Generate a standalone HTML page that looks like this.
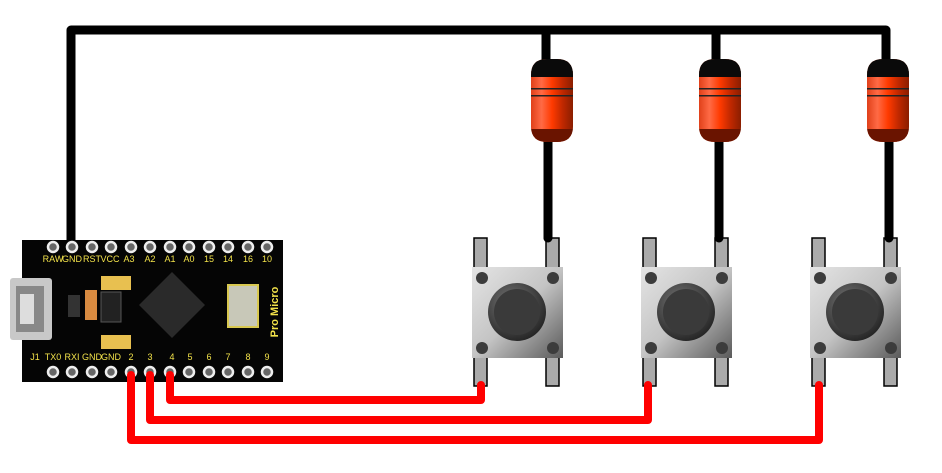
<!DOCTYPE html>
<html><head><meta charset="utf-8"><style>
html,body{margin:0;padding:0;background:#fff;width:942px;height:473px;overflow:hidden}
</style></head><body>
<svg width="942" height="473" viewBox="0 0 942 473" xmlns="http://www.w3.org/2000/svg" font-family="Liberation Sans, sans-serif">
<defs>
<linearGradient id="res" x1="0" x2="1">
<stop offset="0" stop-color="#e0401a"/><stop offset="0.25" stop-color="#ff6a45"/><stop offset="0.5" stop-color="#ff3a00"/><stop offset="0.75" stop-color="#c02800"/><stop offset="1" stop-color="#8a1e00"/></linearGradient>
<linearGradient id="btn" x1="0" y1="0" x2="1" y2="1">
<stop offset="0" stop-color="#e4e4e4"/><stop offset="0.5" stop-color="#c4c4c4"/><stop offset="1" stop-color="#5a5a5a"/></linearGradient>
<radialGradient id="cap" cx="0.4" cy="0.35" r="0.7"><stop offset="0" stop-color="#777"/><stop offset="1" stop-color="#222"/></radialGradient>
<g id="resistor">
<path d="M0 16 Q0 0 16 0 L26 0 Q42 0 42 16 L42 67 Q42 83 26 83 L16 83 Q0 83 0 67 Z" fill="url(#res)"/>
<path d="M0 16 Q0 0 16 0 L26 0 Q42 0 42 16 L42 18 L0 18 Z" fill="#0a0a0a"/>
<path d="M0 70 L42 70 L42 67 Q42 83 26 83 L16 83 Q0 83 0 67 Z" fill="#6a1400"/>
<rect x="0" y="29" width="42" height="1.5" fill="#222"/>
<rect x="0" y="36" width="42" height="1.5" fill="#222"/>
</g>
<g id="button">
<rect x="2" y="0" width="13" height="148" fill="#aaa" stroke="#000" stroke-width="1.5"/>
<rect x="74" y="0" width="13" height="148" fill="#aaa" stroke="#000" stroke-width="1.5"/>
<rect x="0" y="29" width="91" height="91" fill="url(#btn)"/>
<circle cx="10" cy="40" r="6" fill="#3c3c3c"/><circle cx="81" cy="40" r="6" fill="#3c3c3c"/>
<circle cx="10" cy="110" r="6" fill="#3c3c3c"/><circle cx="81" cy="110" r="6" fill="#3c3c3c"/>
<circle cx="45" cy="74" r="29" fill="url(#cap)"/>
<circle cx="45" cy="74" r="23" fill="#3a3a3a"/>
</g>
</defs>

<g stroke="#000" stroke-width="9" fill="none" stroke-linecap="round" stroke-linejoin="round">
<path d="M71 245 L71 30 L886 30 L886 60"/>
<path d="M546 30 L546 60"/><path d="M716 30 L716 60"/>
<path d="M548 140 L548 238"/><path d="M719 140 L719 238"/><path d="M889 140 L889 238"/>
</g>

<use href="#resistor" x="531" y="59"/>
<use href="#resistor" x="699" y="59"/>
<use href="#resistor" x="867" y="59"/>

<use href="#button" x="472" y="238"/>
<use href="#button" x="641" y="238"/>
<use href="#button" x="810" y="238"/>
<g stroke="#000" stroke-width="9" stroke-linecap="round">
<path d="M548 232 L548 238"/><path d="M719 232 L719 238"/><path d="M889 232 L889 238"/>
</g>

<rect x="22" y="240" width="261" height="142" fill="#050505"/>
<rect x="10" y="278" width="42" height="62" rx="3" fill="#c8c8c8"/>
<rect x="16" y="286" width="28" height="46" fill="#888"/>
<rect x="20" y="294" width="14" height="30" fill="#ddd"/>
<g fill="#666" stroke="#eee" stroke-width="2.5">
<circle cx="53" cy="247" r="5"/><circle cx="72" cy="247" r="5"/><circle cx="92" cy="247" r="5"/><circle cx="111" cy="247" r="5"/><circle cx="131" cy="247" r="5"/><circle cx="150" cy="247" r="5"/><circle cx="170" cy="247" r="5"/><circle cx="189" cy="247" r="5"/><circle cx="209" cy="247" r="5"/><circle cx="228" cy="247" r="5"/><circle cx="248" cy="247" r="5"/><circle cx="267" cy="247" r="5"/>
<circle cx="53" cy="372" r="5"/><circle cx="72" cy="372" r="5"/><circle cx="92" cy="372" r="5"/><circle cx="111" cy="372" r="5"/><circle cx="131" cy="372" r="5"/><circle cx="150" cy="372" r="5"/><circle cx="170" cy="372" r="5"/><circle cx="189" cy="372" r="5"/><circle cx="209" cy="372" r="5"/><circle cx="228" cy="372" r="5"/><circle cx="248" cy="372" r="5"/><circle cx="267" cy="372" r="5"/>
</g>
<g fill="#f2e24a" font-size="9" text-anchor="middle">
<text x="53" y="262">RAW</text><text x="72" y="262">GND</text><text x="92" y="262">RST</text><text x="110" y="262">VCC</text><text x="129" y="262">A3</text><text x="150" y="262">A2</text><text x="170" y="262">A1</text><text x="189" y="262">A0</text><text x="209" y="262">15</text><text x="228" y="262">14</text><text x="248" y="262">16</text><text x="267" y="262">10</text>
<text x="35" y="360">J1</text><text x="53" y="360">TX0</text><text x="72" y="360">RXI</text><text x="92" y="360">GND</text><text x="111" y="360">GND</text><text x="131" y="360">2</text><text x="150" y="360">3</text><text x="172" y="360">4</text><text x="190" y="360">5</text><text x="209" y="360">6</text><text x="228" y="360">7</text><text x="248" y="360">8</text><text x="267" y="360">9</text>
<text x="0" y="0" font-size="11" font-weight="bold" transform="translate(278,312) rotate(-90)">Pro Micro</text>
</g>
<polygon points="172,272 205,305 172,338 139,305" fill="#2a2a2a"/>
<rect x="228" y="285" width="30" height="42" fill="#c8c8b8" stroke="#d8c850" stroke-width="2"/>
<rect x="101" y="276" width="30" height="14" fill="#e8c050"/>
<rect x="101" y="335" width="30" height="14" fill="#e8c050"/>
<rect x="101" y="292" width="20" height="30" fill="#222" stroke="#555"/>
<rect x="68" y="295" width="12" height="22" fill="#333"/>
<rect x="85" y="290" width="12" height="30" fill="#d88a40"/>

<g stroke="#f00" stroke-width="8" fill="none" stroke-linecap="round" stroke-linejoin="round">
<path d="M170 375 L170 400 L481 400 L481 385"/>
<path d="M150 375 L150 420 L648 420 L648 385"/>
<path d="M131 375 L131 440 L819 440 L819 385"/>
</g>
</svg>
</body></html>
